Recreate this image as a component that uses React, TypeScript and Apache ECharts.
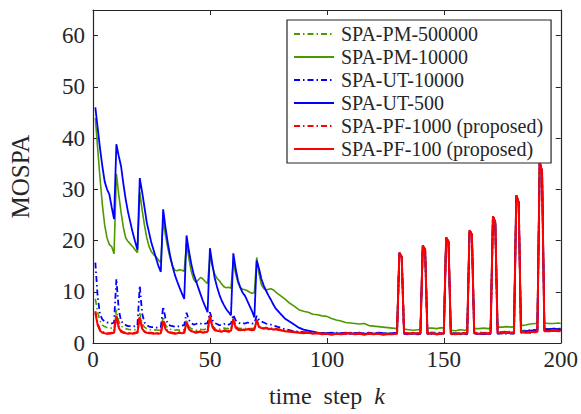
import React, { useEffect, useRef } from "react";
import * as echarts from "echarts";

const seriesNames = [
  "SPA-PM-500000",
  "SPA-PM-10000",
  "SPA-UT-10000",
  "SPA-UT-500",
  "SPA-PF-1000 (proposed)",
  "SPA-PF-100 (proposed)",
];

const xMin = 0;
const xMax = 200;
const xInterval = 50;
const yMin = 0;
const yMax = 65;
const yInterval = 10;

// SPA-PM-500000 (green dash-dot)
const pm500k: [number, number][] = [
  [1, 8.6], [2, 6.0], [3, 4.3], [4, 3.5], [5, 3.2], [6, 3.0], [7, 2.9], [8, 2.9], [9, 2.8],
  [10, 6.5], [11, 4.2], [12, 3.3], [13, 3.0], [14, 2.8], [15, 2.7], [16, 2.6], [17, 2.7], [18, 2.6], [19, 2.6],
  [20, 5.8], [21, 3.8], [22, 3.1], [23, 2.8], [24, 2.6], [25, 2.6], [26, 2.5], [27, 2.6], [28, 2.5], [29, 2.5],
  [30, 5.2], [31, 3.5], [32, 2.9], [33, 2.7], [34, 2.6], [35, 2.5], [36, 2.6], [37, 2.5], [38, 2.6], [39, 2.6],
  [40, 4.6], [41, 3.2], [42, 2.8], [43, 2.6], [44, 2.5], [45, 2.6], [46, 2.7], [47, 2.6], [48, 2.7], [49, 2.7],
  [50, 5.0], [51, 3.4], [52, 2.9], [53, 2.8], [54, 2.7], [55, 2.8], [56, 2.9], [57, 2.8], [58, 2.8], [59, 2.9],
  [60, 4.8], [61, 3.3], [62, 2.9], [63, 2.8], [64, 2.9], [65, 2.8], [66, 2.9], [67, 2.8], [68, 2.8], [69, 2.9],
  [70, 4.6], [71, 3.3], [72, 3.0], [73, 2.9], [74, 2.9], [75, 2.8], [76, 2.8], [78, 2.7], [80, 2.6],
  [82, 2.4], [84, 2.3], [86, 2.2], [88, 2.1], [90, 2.0], [92, 2.1], [94, 1.9], [96, 2.0], [98, 1.9], [100, 1.9],
  [102, 1.8], [104, 1.9], [106, 1.8], [108, 1.9], [110, 2.0], [112, 1.8], [114, 1.9], [116, 1.8], [118, 1.9],
  [120, 1.8], [122, 1.9], [124, 1.8], [126, 1.9], [128, 1.9], [130, 2.0],
  [131, 17.5], [132, 16.7], [133, 2.0], [135, 1.9], [137, 2.0], [139, 1.9], [140, 2.0],
  [141, 18.9], [142, 18.2], [143, 2.0], [145, 2.1], [147, 2.0], [149, 2.1], [150, 2.0],
  [151, 20.5], [152, 19.7], [153, 1.9], [155, 2.0], [157, 1.9], [159, 2.0], [160, 2.0],
  [161, 21.9], [162, 21.1], [163, 2.0], [165, 2.1], [167, 2.0], [169, 2.1], [170, 2.1],
  [171, 24.6], [172, 23.5], [173, 2.2], [175, 2.2], [177, 2.3], [179, 2.2], [180, 2.3],
  [181, 28.7], [182, 27.4], [183, 2.4], [185, 2.5], [187, 2.6], [189, 2.6], [190, 2.7],
  [191, 35.2], [192, 33.4], [193, 2.8], [195, 2.7], [197, 2.8], [199, 2.8], [200, 2.8],
];

// SPA-PM-10000 (green solid)
const pm10k: [number, number][] = [
  [1, 43.9], [2, 38.0], [3, 32.2], [4, 27.0], [5, 23.0], [6, 20.5], [7, 19.2], [8, 18.8], [9, 17.4],
  [10, 33.0], [11, 29.0], [12, 25.5], [13, 22.5], [14, 20.5], [15, 19.8], [16, 19.3], [17, 18.8], [18, 18.2], [19, 17.6],
  [20, 29.5], [21, 26.0], [22, 23.0], [23, 20.5], [24, 18.8], [25, 17.8], [26, 17.2], [27, 16.8], [28, 16.2], [29, 15.6],
  [30, 24.0], [31, 21.0], [32, 18.5], [33, 16.5], [34, 15.0], [35, 14.2], [36, 14.1], [37, 14.3], [38, 14.2], [39, 14.0],
  [40, 19.5], [41, 16.5], [42, 14.0], [43, 12.5], [44, 11.8], [45, 12.3], [46, 12.8], [47, 12.5], [48, 12.0], [49, 11.6],
  [50, 17.0], [51, 15.0], [52, 13.5], [53, 12.6], [54, 12.2], [55, 11.5], [56, 11.0], [57, 10.8], [58, 10.9], [59, 10.7],
  [60, 16.0], [61, 13.5], [62, 11.8], [63, 10.8], [64, 10.5], [65, 10.4], [66, 10.2], [67, 9.9], [68, 9.7], [69, 9.8],
  [70, 16.7], [71, 13.5], [72, 11.4], [73, 10.6], [74, 10.3], [75, 10.5], [76, 10.6], [77, 10.4], [78, 10.0],
  [80, 9.3], [82, 8.6], [84, 7.8], [86, 7.2], [88, 6.5], [90, 6.2], [92, 6.0], [94, 5.6], [96, 5.5], [98, 5.3],
  [100, 5.2], [102, 4.8], [104, 4.5], [106, 4.3], [108, 4.0], [110, 3.9], [112, 3.8], [114, 3.7], [116, 3.8],
  [118, 3.4], [120, 3.3], [122, 3.2], [124, 3.1], [126, 3.0], [128, 2.9], [130, 2.8],
  [131, 17.6], [132, 16.8], [133, 2.7], [135, 2.6], [137, 2.5], [139, 2.6], [140, 2.6],
  [141, 19.0], [142, 18.3], [143, 2.9], [145, 2.9], [147, 2.8], [149, 3.0], [150, 2.9],
  [151, 20.6], [152, 19.8], [153, 2.5], [155, 2.4], [157, 2.6], [159, 2.5], [160, 2.6],
  [161, 22.0], [162, 21.2], [163, 2.8], [165, 2.8], [167, 2.9], [169, 2.8], [170, 2.9],
  [171, 24.7], [172, 23.6], [173, 3.1], [175, 3.1], [177, 3.2], [179, 3.1], [180, 3.2],
  [181, 28.8], [182, 27.5], [183, 3.4], [185, 3.5], [187, 3.7], [189, 3.8], [190, 3.8],
  [191, 35.3], [192, 33.5], [193, 3.9], [195, 3.8], [197, 3.8], [199, 3.9], [200, 3.8],
];

// SPA-UT-10000 (blue dash-dot)
const ut10k: [number, number][] = [
  [1, 15.7], [2, 9.0], [3, 5.6], [4, 4.6], [5, 4.2], [6, 4.0], [7, 4.0], [8, 3.8], [9, 4.0],
  [10, 12.5], [11, 6.5], [12, 4.3], [13, 3.8], [14, 3.5], [15, 3.3], [16, 3.3], [17, 3.2], [18, 3.3], [19, 3.4],
  [20, 11.2], [21, 5.8], [22, 4.0], [23, 3.5], [24, 3.2], [25, 3.1], [26, 3.1], [27, 3.0], [28, 3.1], [29, 3.1],
  [30, 7.1], [31, 4.8], [32, 3.8], [33, 3.4], [34, 3.3], [35, 3.2], [36, 3.3], [37, 3.2], [38, 3.4], [39, 3.5],
  [40, 5.9], [41, 4.5], [42, 3.9], [43, 3.6], [44, 3.7], [45, 3.9], [46, 3.8], [47, 3.6], [48, 3.8], [49, 3.9],
  [50, 6.0], [51, 4.5], [52, 3.9], [53, 3.7], [54, 3.5], [55, 3.5], [56, 3.7], [57, 3.8], [58, 3.6], [59, 3.8],
  [60, 5.5], [61, 4.4], [62, 4.0], [63, 3.8], [64, 3.9], [65, 3.8], [66, 4.0], [67, 3.9], [68, 3.8], [69, 3.9],
  [70, 5.3], [71, 4.5], [72, 4.2], [73, 4.0], [74, 3.8], [75, 3.7], [76, 3.6], [78, 3.3], [80, 3.0],
  [82, 2.7], [84, 2.5], [86, 2.3], [88, 2.2], [90, 2.1], [92, 2.0], [94, 2.1], [96, 1.9], [98, 2.0], [100, 1.9],
  [102, 1.8], [104, 2.0], [106, 1.9], [108, 1.8], [110, 2.0], [112, 1.9], [114, 1.8], [116, 1.9], [118, 2.0],
  [120, 1.8], [122, 1.9], [124, 1.8], [126, 1.9], [128, 1.8], [130, 1.9],
  [131, 17.5], [132, 16.7], [133, 1.8], [135, 1.7], [137, 1.8], [139, 1.7], [140, 1.8],
  [141, 18.9], [142, 18.2], [143, 1.7], [145, 1.8], [147, 1.7], [149, 1.8], [150, 1.7],
  [151, 20.5], [152, 19.7], [153, 1.7], [155, 1.8], [157, 1.7], [159, 1.8], [160, 1.7],
  [161, 21.9], [162, 21.1], [163, 1.8], [165, 1.7], [167, 1.8], [169, 1.7], [170, 1.8],
  [171, 24.6], [172, 23.5], [173, 1.8], [175, 1.9], [177, 1.8], [179, 1.9], [180, 1.8],
  [181, 28.7], [182, 27.4], [183, 2.0], [185, 2.1], [187, 2.0], [189, 2.2], [190, 2.1],
  [191, 35.2], [192, 33.4], [193, 2.4], [195, 2.5], [197, 2.5], [199, 2.6], [200, 2.5],
];

// SPA-UT-500 (blue solid)
const ut500: [number, number][] = [
  [1, 46.0], [2, 42.0], [3, 38.0], [4, 34.5], [5, 31.5], [6, 30.0], [7, 29.0], [8, 26.5], [9, 24.2],
  [10, 38.8], [11, 36.5], [12, 34.5], [13, 31.0], [14, 28.0], [15, 25.5], [16, 23.5], [17, 21.5], [18, 19.8], [19, 18.2],
  [20, 32.2], [21, 29.5], [22, 26.5], [23, 23.5], [24, 21.5], [25, 19.5], [26, 18.0], [27, 16.5], [28, 15.0], [29, 13.9],
  [30, 26.1], [31, 22.5], [32, 19.5], [33, 17.0], [34, 15.0], [35, 13.3], [36, 12.0], [37, 10.8], [38, 9.7], [39, 8.6],
  [40, 21.0], [41, 18.0], [42, 15.5], [43, 13.5], [44, 12.2], [45, 10.8], [46, 9.5], [47, 8.2], [48, 7.1], [49, 6.0],
  [50, 18.5], [51, 15.5], [52, 12.8], [53, 11.0], [54, 9.5], [55, 8.3], [56, 7.4], [57, 6.6], [58, 6.0], [59, 5.4],
  [60, 17.5], [61, 14.5], [62, 12.2], [63, 10.8], [64, 9.8], [65, 9.2], [66, 8.2], [67, 7.2], [68, 6.2], [69, 5.0],
  [70, 16.1], [71, 14.5], [72, 12.5], [73, 11.2], [74, 10.2], [75, 9.3], [76, 8.5], [77, 7.6], [78, 6.8],
  [80, 5.8], [82, 4.8], [84, 4.2], [86, 3.6], [88, 3.0], [90, 2.6], [92, 2.4], [94, 2.2], [96, 2.0], [98, 1.9],
  [100, 1.9], [102, 2.0], [104, 1.8], [106, 1.9], [108, 2.0], [110, 1.8], [112, 1.9], [114, 2.0], [116, 1.8],
  [118, 1.9], [120, 1.8], [122, 2.0], [124, 1.9], [126, 1.8], [128, 1.9], [130, 2.0],
  [131, 17.6], [132, 16.8], [133, 1.9], [135, 1.8], [137, 1.9], [139, 1.8], [140, 1.9],
  [141, 19.0], [142, 18.3], [143, 1.8], [145, 1.9], [147, 1.8], [149, 1.9], [150, 1.8],
  [151, 20.6], [152, 19.8], [153, 1.8], [155, 1.9], [157, 1.8], [159, 1.9], [160, 1.8],
  [161, 22.0], [162, 21.2], [163, 1.9], [165, 1.8], [167, 1.9], [169, 1.8], [170, 1.9],
  [171, 24.7], [172, 23.6], [173, 2.0], [175, 2.0], [177, 2.1], [179, 2.0], [180, 2.1],
  [181, 28.8], [182, 27.5], [183, 2.2], [185, 2.3], [187, 2.4], [189, 2.5], [190, 2.5],
  [191, 35.3], [192, 33.5], [193, 2.7], [195, 2.7], [197, 2.8], [199, 2.7], [200, 2.7],
];

// SPA-PF-1000 (red dash-dot)
const pf1000: [number, number][] = [
  [1, 6.2], [2, 3.8], [3, 2.6], [4, 2.2], [5, 2.0], [6, 1.9], [7, 1.9], [8, 2.0], [9, 2.1],
  [10, 5.5], [11, 3.2], [12, 2.4], [13, 2.1], [14, 2.0], [15, 1.9], [16, 2.0], [17, 1.9], [18, 2.0], [19, 2.1],
  [20, 5.2], [21, 3.0], [22, 2.3], [23, 2.1], [24, 2.0], [25, 2.0], [26, 1.9], [27, 2.0], [28, 1.9], [29, 2.0],
  [30, 4.5], [31, 2.9], [32, 2.3], [33, 2.1], [34, 2.0], [35, 1.9], [36, 2.0], [37, 2.1], [38, 2.0], [39, 2.1],
  [40, 4.2], [41, 2.8], [42, 2.4], [43, 2.3], [44, 2.1], [45, 2.2], [46, 2.3], [47, 2.1], [48, 2.2], [49, 2.3],
  [50, 5.4], [51, 3.3], [52, 2.6], [53, 2.5], [54, 2.4], [55, 2.3], [56, 2.5], [57, 2.4], [58, 2.3], [59, 2.5],
  [60, 4.7], [61, 3.1], [62, 2.7], [63, 2.6], [64, 2.7], [65, 2.6], [66, 2.8], [67, 2.7], [68, 2.6], [69, 2.7],
  [70, 4.5], [71, 3.2], [72, 3.0], [73, 2.9], [74, 3.0], [75, 2.8], [76, 2.9], [77, 2.7], [78, 2.8],
  [80, 2.6], [82, 2.4], [84, 2.3], [86, 2.2], [88, 2.1], [90, 2.0], [92, 2.1], [94, 1.9], [96, 2.0], [98, 1.8],
  [100, 1.9], [102, 1.7], [104, 1.9], [106, 1.8], [108, 1.9], [110, 2.0], [112, 1.8], [114, 1.9], [116, 1.7],
  [118, 1.9], [120, 1.8], [122, 1.9], [124, 1.7], [126, 1.8], [128, 1.8], [130, 1.9],
  [131, 17.6], [132, 16.8], [133, 2.0], [135, 1.9], [137, 2.0], [139, 1.9], [140, 2.0],
  [141, 19.0], [142, 18.3], [143, 1.9], [145, 2.0], [147, 1.8], [149, 1.9], [150, 2.0],
  [151, 20.6], [152, 19.8], [153, 1.9], [155, 1.8], [157, 1.9], [159, 2.0], [160, 1.9],
  [161, 22.0], [162, 21.2], [163, 2.0], [165, 1.9], [167, 2.0], [169, 1.9], [170, 2.0],
  [171, 24.7], [172, 23.6], [173, 2.1], [175, 2.0], [177, 2.1], [179, 2.0], [180, 2.1],
  [181, 28.8], [182, 27.5], [183, 2.2], [185, 2.1], [187, 2.3], [189, 2.2], [190, 2.3],
  [191, 35.3], [192, 33.5], [193, 2.4], [195, 2.4], [197, 2.5], [199, 2.4], [200, 2.5],
];

// SPA-PF-100 (red solid)
const pf100: [number, number][] = [
  [1, 5.9], [2, 3.5], [3, 2.4], [4, 2.0], [5, 1.9], [6, 1.8], [7, 1.8], [8, 1.9], [9, 2.0],
  [10, 5.3], [11, 3.0], [12, 2.2], [13, 2.0], [14, 1.9], [15, 1.8], [16, 1.9], [17, 1.8], [18, 1.9], [19, 2.0],
  [20, 5.0], [21, 2.8], [22, 2.2], [23, 2.0], [24, 1.9], [25, 1.9], [26, 1.8], [27, 1.9], [28, 1.8], [29, 1.9],
  [30, 4.3], [31, 2.7], [32, 2.2], [33, 2.0], [34, 1.9], [35, 1.8], [36, 1.9], [37, 2.0], [38, 1.9], [39, 2.0],
  [40, 4.0], [41, 2.7], [42, 2.3], [43, 2.2], [44, 2.0], [45, 2.1], [46, 2.2], [47, 2.0], [48, 2.1], [49, 2.2],
  [50, 5.3], [51, 3.2], [52, 2.5], [53, 2.4], [54, 2.3], [55, 2.2], [56, 2.4], [57, 2.3], [58, 2.2], [59, 2.4],
  [60, 4.6], [61, 3.0], [62, 2.6], [63, 2.5], [64, 2.6], [65, 2.5], [66, 2.7], [67, 2.6], [68, 2.5], [69, 2.6],
  [70, 4.4], [71, 3.1], [72, 2.9], [73, 2.8], [74, 2.9], [75, 2.7], [76, 2.8], [77, 2.6], [78, 2.7],
  [80, 2.5], [82, 2.3], [84, 2.2], [86, 2.1], [88, 2.0], [90, 1.9], [92, 2.0], [94, 1.8], [96, 1.9], [98, 1.7],
  [100, 1.8], [102, 1.6], [104, 1.8], [106, 1.7], [108, 1.8], [110, 1.9], [112, 1.7], [114, 1.8], [116, 1.6],
  [118, 1.8], [120, 1.7], [122, 1.8], [124, 1.6], [126, 1.7], [128, 1.7], [130, 1.8],
  [131, 17.6], [132, 16.8], [133, 1.9], [135, 1.8], [137, 1.9], [139, 1.8], [140, 1.9],
  [141, 19.0], [142, 18.3], [143, 1.8], [145, 1.9], [147, 1.7], [149, 1.8], [150, 1.9],
  [151, 20.6], [152, 19.8], [153, 1.8], [155, 1.7], [157, 1.8], [159, 1.9], [160, 1.8],
  [161, 22.0], [162, 21.2], [163, 1.9], [165, 1.8], [167, 1.9], [169, 1.8], [170, 1.9],
  [171, 24.7], [172, 23.6], [173, 2.0], [175, 1.9], [177, 2.0], [179, 1.9], [180, 2.0],
  [181, 28.8], [182, 27.5], [183, 2.1], [185, 2.0], [187, 2.2], [189, 2.1], [190, 2.2],
  [191, 35.3], [192, 33.5], [193, 2.3], [195, 2.3], [197, 2.4], [199, 2.3], [200, 2.4],
];

const GREEN = "#4d9900";
const BLUE = "#0000ff";
const RED = "#ff0000";
const AXIS = "#262626";
const FONT = "Liberation Serif";
const DASHDOT = [6, 3, 1.5, 3];

export default function App() {
  const ref = useRef<HTMLDivElement>(null);

  useEffect(() => {
    if (!ref.current) return;
    const chart = echarts.init(ref.current, null, { renderer: "svg" });

    const mk = (name: string, data: [number, number][], color: string, dashed: boolean, width: number) => ({
      name,
      type: "line",
      data,
      symbol: "none",
      showSymbol: false,
      xAxisIndex: 0,
      yAxisIndex: 0,
      lineStyle: { color, width, type: dashed ? DASHDOT : "solid" },
      itemStyle: { color },
      emphasis: { disabled: true },
    });

    const axisCommon = {
      axisLine: { show: true, onZero: false, lineStyle: { color: AXIS, width: 1.2 } },
      axisTick: { show: true, inside: true, length: 5, lineStyle: { color: AXIS, width: 1 } },
      splitLine: { show: false },
    };

    chart.setOption({
      animation: false,
      backgroundColor: "#ffffff",
      textStyle: { fontFamily: FONT },
      grid: { left: 91, right: 18, top: 10, bottom: 71, containLabel: false },
      xAxis: [
        {
          type: "value",
          min: xMin,
          max: xMax,
          interval: xInterval,
          position: "bottom",
          ...axisCommon,
          axisLabel: { color: AXIS, fontSize: 23, fontFamily: FONT, margin: 5 },
          name: "time  step  {k|k}",
          nameLocation: "middle",
          nameGap: 41,
          nameTextStyle: {
            color: AXIS,
            fontSize: 24,
            fontFamily: FONT,
            rich: { k: { fontStyle: "italic", fontSize: 24, fontFamily: FONT, color: AXIS } },
          },
        },
        {
          type: "value",
          min: xMin,
          max: xMax,
          interval: xInterval,
          position: "top",
          ...axisCommon,
          axisLabel: { show: false },
        },
      ],
      yAxis: [
        {
          type: "value",
          min: yMin,
          max: yMax,
          interval: yInterval,
          position: "left",
          ...axisCommon,
          axisLabel: { color: AXIS, fontSize: 23, fontFamily: FONT, margin: 8, showMaxLabel: false },
          name: "MOSPA",
          nameLocation: "middle",
          nameGap: 60,
          nameTextStyle: { color: AXIS, fontSize: 25, fontFamily: FONT },
        },
        {
          type: "value",
          min: yMin,
          max: yMax,
          interval: yInterval,
          position: "right",
          ...axisCommon,
          axisLabel: { show: false },
        },
      ],
      legend: {
        orient: "vertical",
        left: 287,
        top: 20,
        padding: [4, 8, 4, 6],
        itemWidth: 40,
        itemHeight: 14,
        itemGap: 3,
        backgroundColor: "#ffffff",
        borderColor: AXIS,
        borderWidth: 1.2,
        borderRadius: 0,
        selectedMode: false,
        itemStyle: { opacity: 0 },
        textStyle: { color: AXIS, fontSize: 20, fontFamily: FONT, lineHeight: 20, padding: [0, 0, 0, 2] },
        data: seriesNames,
      },
      series: [
        mk(seriesNames[0], pm500k, GREEN, true, 1.6),
        mk(seriesNames[1], pm10k, GREEN, false, 1.6),
        mk(seriesNames[2], ut10k, BLUE, true, 1.8),
        mk(seriesNames[3], ut500, BLUE, false, 1.8),
        mk(seriesNames[4], pf1000, RED, true, 2),
        mk(seriesNames[5], pf100, RED, false, 2),
      ],
    });

    return () => chart.dispose();
  }, []);

  return (
    <div
      ref={ref}
      style={{ position: "fixed", left: 0, top: 0, width: 581, height: 414, background: "#fff" }}
    />
  );
}
